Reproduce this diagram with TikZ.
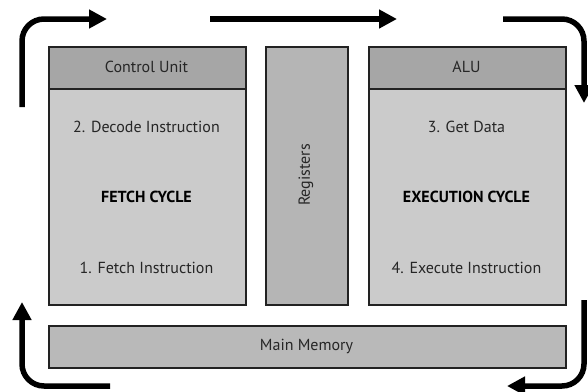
\documentclass[tikz,border=0pt]{standalone}
\usepackage{fontspec}
\setmainfont{PT Sans}
\usetikzlibrary{arrows.meta}
\definecolor{hdr}{HTML}{A6A6A6}
\definecolor{bdy}{HTML}{CBCBCB}
\definecolor{reg}{HTML}{B5B5B5}
\definecolor{mem}{HTML}{B9B9B9}
\definecolor{edge}{HTML}{222222}
\tikzset{
  box/.style={draw=edge, line width=1.5pt, inner sep=0pt},
  lbl/.style={font=\fontsize{16}{18}\selectfont, text=black!85},
  bold/.style={font=\fontsize{16}{18}\selectfont\bfseries, text=black},
  flow/.style={line width=5.5pt, rounded corners=22pt, -{Triangle[length=18pt,width=18pt]}},
}
\begin{document}
\begin{tikzpicture}[x=1pt,y=-1pt]
\useasboundingbox (0,0) rectangle (588,391);
\clip (0,0) rectangle (588,391);
% left block
\node[box, fill=bdy, minimum width=197pt, minimum height=216pt, anchor=north west] (fetch) at (48,88) {};
\node[box, fill=hdr, minimum width=197pt, minimum height=42pt, anchor=north west] (cu) at (48,46) {};
\node[lbl] (cut) at (146.5,67) {Control Unit};
\node[lbl] (dec) at (146.5,127) {2. Decode Instruction};
\node[bold] (fc) at (146.5,197) {FETCH CYCLE};
\node[lbl] (fi) at (146.5,268) {1. Fetch Instruction};
% registers
\node[box, fill=reg, minimum width=82pt, minimum height=258pt, anchor=north west] (regs) at (265,46) {};
\node[lbl, rotate=90] (regt) at (306,175) {Registers};
% right block
\node[box, fill=bdy, minimum width=197pt, minimum height=216pt, anchor=north west] (exec) at (368,88) {};
\node[box, fill=hdr, minimum width=197pt, minimum height=42pt, anchor=north west] (alu) at (368,46) {};
\node[lbl] (alut) at (466.5,67) {ALU};
\node[lbl] (gd) at (466.5,127) {3. Get Data};
\node[bold] (ec) at (466.5,197) {EXECUTION CYCLE};
\node[lbl] (ei) at (466.5,268) {4. Execute Instruction};
% main memory
\node[box, fill=mem, minimum width=517pt, minimum height=42pt, anchor=north west] (mm) at (48,325) {};
\node[lbl] (mmt) at (306.5,346) {Main Memory};
% arrows
\coordinate (a1s) at (22,107);
\coordinate (a1c) at (22,19);
\coordinate (a1e) at (107,19);
\coordinate (a2s) at (210,19);
\coordinate (a2e) at (397,19);
\coordinate (a3s) at (503,19);
\coordinate (a3c) at (584,19);
\coordinate (a3e) at (584,103);
\coordinate (a4s) at (584,300);
\coordinate (a4c) at (584,386);
\coordinate (a4e) at (507,386);
\coordinate (a5s) at (110,386);
\coordinate (a5c) at (22,386);
\coordinate (a5e) at (22,302);
\draw[flow] (a1s) -- (a1c) -- (a1e);
\draw[flow] (a2s) -- (a2e);
\draw[flow] (a3s) -- (a3c) -- (a3e);
\draw[flow] (a4s) -- (a4c) -- (a4e);
\draw[flow] (a5s) -- (a5c) -- (a5e);
\end{tikzpicture}
\end{document}
